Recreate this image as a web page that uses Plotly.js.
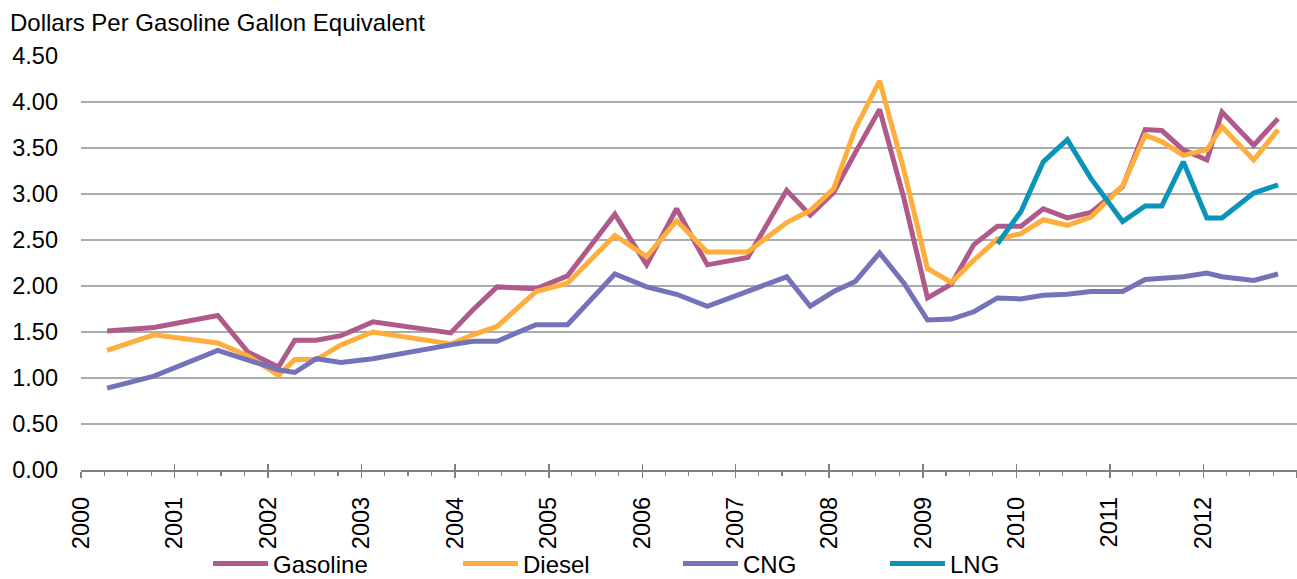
<!DOCTYPE html>
<html>
<head>
<meta charset="utf-8">
<script src="https://cdn.plot.ly/plotly-3.0.1.min.js"></script>
<style>
html,body{margin:0;padding:0;background:#fff;}
#chart{width:1297px;height:579px;}
</style>
</head>
<body>
<div id="chart"></div>
<script>
const dates = ["2000-04-12","2000-10-12","2001-06-18","2001-10-15","2002-02-10","2002-04-15","2002-07-08","2002-10-12","2003-02-14","2003-12-15","2004-03-10","2004-06-13","2004-11-12","2005-03-15","2005-09-16","2006-01-18","2006-05-15","2006-09-12","2007-02-17","2007-07-19","2007-10-19","2008-01-19","2008-04-12","2008-07-16","2008-10-19","2009-01-19","2009-04-22","2009-07-19","2009-10-19","2010-01-19","2010-04-16","2010-07-19","2010-10-19","2011-02-20","2011-05-19","2011-07-23","2011-10-15","2012-01-15","2012-03-14","2012-07-16","2012-10-19"];
const gasoline = [1.51,1.55,1.68,1.28,1.12,1.41,1.41,1.46,1.61,1.49,1.74,1.99,1.97,2.11,2.78,2.23,2.84,2.23,2.31,3.04,2.77,3.02,3.45,3.92,2.95,1.87,2.02,2.45,2.65,2.65,2.84,2.74,2.80,3.08,3.70,3.69,3.48,3.37,3.89,3.53,3.82];
const diesel = [1.30,1.47,1.38,1.24,1.03,1.20,1.20,1.36,1.50,1.37,1.47,1.56,1.94,2.03,2.55,2.32,2.71,2.37,2.37,2.69,2.82,3.06,3.71,4.23,3.26,2.19,2.04,2.28,2.51,2.57,2.72,2.66,2.75,3.09,3.64,3.57,3.42,3.48,3.73,3.37,3.70];
const cng = [0.89,1.02,1.30,1.20,1.09,1.06,1.21,1.17,1.21,1.36,1.40,1.40,1.58,1.58,2.13,1.99,1.91,1.78,1.95,2.10,1.78,1.94,2.05,2.36,2.03,1.63,1.64,1.72,1.87,1.86,1.90,1.91,1.94,1.94,2.07,2.08,2.10,2.14,2.10,2.06,2.13];
const lngDates = ["2009-10-19","2010-01-19","2010-04-16","2010-07-19","2010-10-19","2011-02-20","2011-05-19","2011-07-23","2011-10-15","2012-01-15","2012-03-14","2012-07-16","2012-10-19"];
const lng = [2.46,2.81,3.35,3.59,3.17,2.70,2.87,2.87,3.35,2.74,2.74,3.01,3.10];
const yTicks = [0,0.5,1,1.5,2,2.5,3,3.5,4,4.5];
const yTickText = ["0.00","0.50","1.00","1.50","2.00","2.50","3.00","3.50","4.00","4.50"];
const seriesNames = ["Gasoline","Diesel","CNG","LNG"];

const FONT = "Liberation Sans, Arial, sans-serif";
const colors = ["#AF5A8A","#FDAE3D","#7472B8","#0A94B9"];

function tr(x, y, i, leg) {
  return {x: x, y: y, type: "scatter", mode: "lines", name: seriesNames[i],
    line: {color: colors[i], width: 5}, legend: leg, hoverinfo: "x+y"};
}

const data = [
  tr(dates, gasoline, 0, "legend"),
  tr(dates, diesel, 1, "legend2"),
  tr(dates, cng, 2, "legend3"),
  tr(lngDates, lng, 3, "legend4"),
  {x: [], y: [], xaxis: "x2", type: "scatter", showlegend: false}
];

function leg(xpx) {
  return {orientation: "h", x: xpx / 1297, xref: "container", xanchor: "left",
    y: (579 - 564) / 579, yref: "container", yanchor: "middle",
    font: {family: FONT, size: 24, color: "#000"}, bgcolor: "rgba(0,0,0,0)", itemwidth: 55};
}

const layout = {
  width: 1297, height: 579,
  margin: {l: 81, r: 0, t: 56, b: 109, autoexpand: false},
  paper_bgcolor: "#fff", plot_bgcolor: "#fff",
  font: {family: FONT, size: 24, color: "#000"},
  title: {text: "Dollars Per Gasoline Gallon Equivalent", x: 10/1297, xref: "container", xanchor: "left",
    y: 1 - 23/579, yref: "container", yanchor: "middle", font: {family: FONT, size: 24, color: "#000"}},
  xaxis: {type: "date", range: ["2000-01-01","2013-01-01"], dtick: "M12", tick0: "2000-01-01", tickformat: "%Y",
    tickangle: -90, ticks: "outside", ticklen: 6, tickwidth: 1.5, tickcolor: "#808080",
    showline: true, linecolor: "#808080", linewidth: 1.5, showgrid: false, zeroline: false,
    ticklabelstandoff: 10, automargin: false,
    minor: {dtick: "M3", tick0: "2000-01-01", ticks: "outside", ticklen: 4, tickwidth: 1.2, tickcolor: "#808080", showgrid: false},
    tickfont: {family: FONT, size: 23.5, color: "#000"}},
  xaxis2: {type: "date", overlaying: "x", anchor: "y", side: "bottom", range: ["2000-01-01","2013-01-01"],
    dtick: "M12", tick0: "2000-01-01", ticks: "inside", ticklen: 6, tickwidth: 1.5, tickcolor: "#808080",
    showticklabels: false, showgrid: false, showline: false, zeroline: false, automargin: false},
  yaxis: {range: [0, 4.5], tickvals: yTicks, ticktext: yTickText, showgrid: true, gridcolor: "#A8ACAE", gridwidth: 2,
    zeroline: false, showline: false, ticks: "", ticklabelstandoff: 22, automargin: false,
    tickfont: {family: FONT, size: 23.5, color: "#000"}},
  legend: leg(208),
  legend2: leg(458),
  legend3: leg(678),
  legend4: leg(885),
  showlegend: true
};

Plotly.newPlot("chart", data, layout, {displayModeBar: false, staticPlot: true});
</script>
</body>
</html>
